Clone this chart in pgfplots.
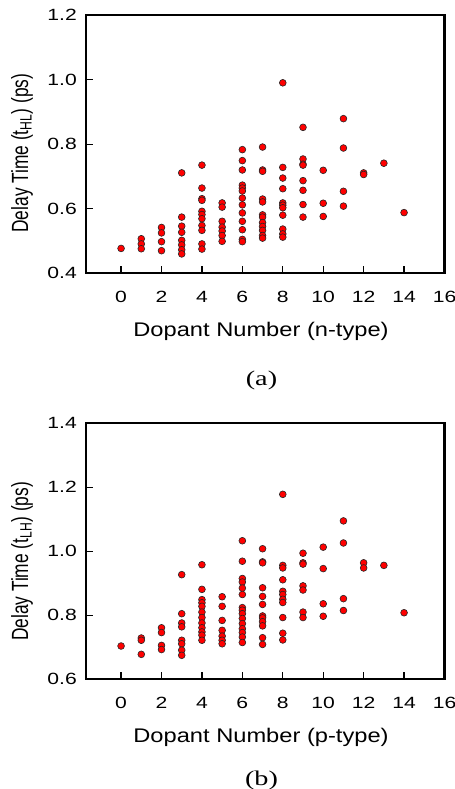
\documentclass[border=0pt]{standalone}
\usepackage{fontspec}
\setmainfont{Liberation Sans}
\newfontfamily\lblfont{Liberation Sans}[FakeStretch=1.2]
\newfontfamily\tickfont{Liberation Sans}[FakeStretch=1.3]
\newfontfamily\capfont{Liberation Serif}[FakeStretch=1.35]
\usepackage{graphicx}
\usepackage{pgfplots}
\pgfplotsset{compat=1.18}

\pgfplotsset{
 dscat/.style={
  scale only axis, width=358.8bp,
  xmin=-1.75, xmax=16,
  xtick={0,2,...,16},
  tick pos=left, tick align=inside,
  major tick length=7bp,
  every tick/.style={black, line width=1.2bp},
  axis line style={line width=2.2bp},
  clip=false,
  /pgf/number format/assume math mode=true,
  tick label style={font=\fontsize{16.3}{18}\tickfont},
  xticklabel style={anchor=base, yshift=-29.6bp},
  yticklabel style={anchor=east, inner sep=0pt, xshift=-8.7bp, /pgf/number format/.cd, fixed, fixed zerofill, precision=1},
  xlabel style={at={(axis description cs:0.4886,0)}, anchor=base, yshift=-63.2bp, font=\fontsize{19.8}{22}\lblfont},
  ylabel style={at={(axis description cs:-0.1775,0.465)}, anchor=center, font=\fontsize{17.4}{20}\selectfont},
 },
 dots/.style={only marks, mark=*, mark size=3.4bp, mark options={fill=red, draw=black!85, line width=0.6bp}},
}

\pgfplotstableread{
x y
0 0.477
1 0.507
1 0.491
1 0.476
2 0.542
2 0.525
2 0.498
2 0.470
3 0.711
3 0.574
3 0.546
3 0.527
3 0.502
3 0.488
3 0.473
3 0.460
4 0.735
4 0.664
4 0.631
4 0.626
4 0.592
4 0.582
4 0.569
4 0.548
4 0.533
4 0.491
4 0.475
5 0.618
5 0.605
5 0.561
5 0.543
5 0.531
5 0.517
5 0.499
6 0.783
6 0.749
6 0.720
6 0.673
6 0.664
6 0.655
6 0.633
6 0.612
6 0.587
6 0.561
6 0.535
6 0.505
6 0.498
7 0.791
7 0.720
7 0.716
7 0.630
7 0.621
7 0.581
7 0.574
7 0.557
7 0.545
7 0.533
7 0.517
7 0.509
8 0.990
8 0.728
8 0.695
8 0.662
8 0.618
8 0.611
8 0.603
8 0.580
8 0.537
8 0.522
8 0.512
9 0.852
9 0.754
9 0.738
9 0.735
9 0.687
9 0.657
9 0.613
9 0.574
10 0.719
10 0.617
10 0.576
11 0.879
11 0.788
11 0.654
11 0.608
12 0.711
12 0.706
13 0.741
14 0.588
}\ntype

\pgfplotstableread{
x y
0 0.704
1 0.729
1 0.722
1 0.678
2 0.761
2 0.746
2 0.706
2 0.693
3 0.927
3 0.805
3 0.776
3 0.764
3 0.722
3 0.711
3 0.691
3 0.675
4 0.958
4 0.881
4 0.849
4 0.839
4 0.828
4 0.810
4 0.793
4 0.776
4 0.761
4 0.748
4 0.738
4 0.722
5 0.858
5 0.828
5 0.784
5 0.753
5 0.735
5 0.722
5 0.711
6 1.033
6 0.969
6 0.915
6 0.904
6 0.885
6 0.865
6 0.824
6 0.816
6 0.805
6 0.790
6 0.774
6 0.758
6 0.746
6 0.732
6 0.715
7 1.008
7 0.967
7 0.964
7 0.886
7 0.859
7 0.834
7 0.798
7 0.792
7 0.780
7 0.767
7 0.730
7 0.709
8 1.178
8 0.956
8 0.948
8 0.911
8 0.875
8 0.865
8 0.850
8 0.840
8 0.793
8 0.744
8 0.723
9 0.994
9 0.964
9 0.960
9 0.892
9 0.879
9 0.810
9 0.793
10 1.013
10 0.946
10 0.836
10 0.797
11 1.095
11 1.026
11 0.852
11 0.815
12 0.964
12 0.948
13 0.956
14 0.808
}\ptype

\begin{document}
\begin{tikzpicture}
\path[use as bounding box] (0,0) rectangle (455bp,789bp);

\begin{axis}[dscat,
  at={(85.7bp,515.7bp)}, anchor=south west,
  height=258.3bp,
  ymin=0.4, ymax=1.2, ytick={0.4,0.6,...,1.2},
  xlabel={Dopant Number (n-type)},
  ylabel={\scalebox{1}[1.35]{Delay Time (t\textsubscript{HL}) (ps)}},
]
\addplot[dots] table[x=x,y=y] {\ntype};
\node[anchor=base, font=\fontsize{21}{24}\capfont] at (axis description cs:0.49,0) [yshift=-112.7bp] {(a)};
\end{axis}

\begin{axis}[dscat,
  at={(85.7bp,109.7bp)}, anchor=south west,
  height=256bp,
  ymin=0.6, ymax=1.4, ytick={0.6,0.8,...,1.4},
  xlabel={Dopant Number (p-type)},
  ylabel={\scalebox{1}[1.35]{Delay Time (t\textsubscript{LH}) (ps)}},
  ylabel style={at={(axis description cs:-0.1775,0.46)}},
]
\addplot[dots] table[x=x,y=y] {\ptype};
\node[anchor=base, font=\fontsize{21}{24}\capfont] at (axis description cs:0.49,0) [yshift=-105.7bp] {(b)};
\end{axis}
\end{tikzpicture}
\end{document}
